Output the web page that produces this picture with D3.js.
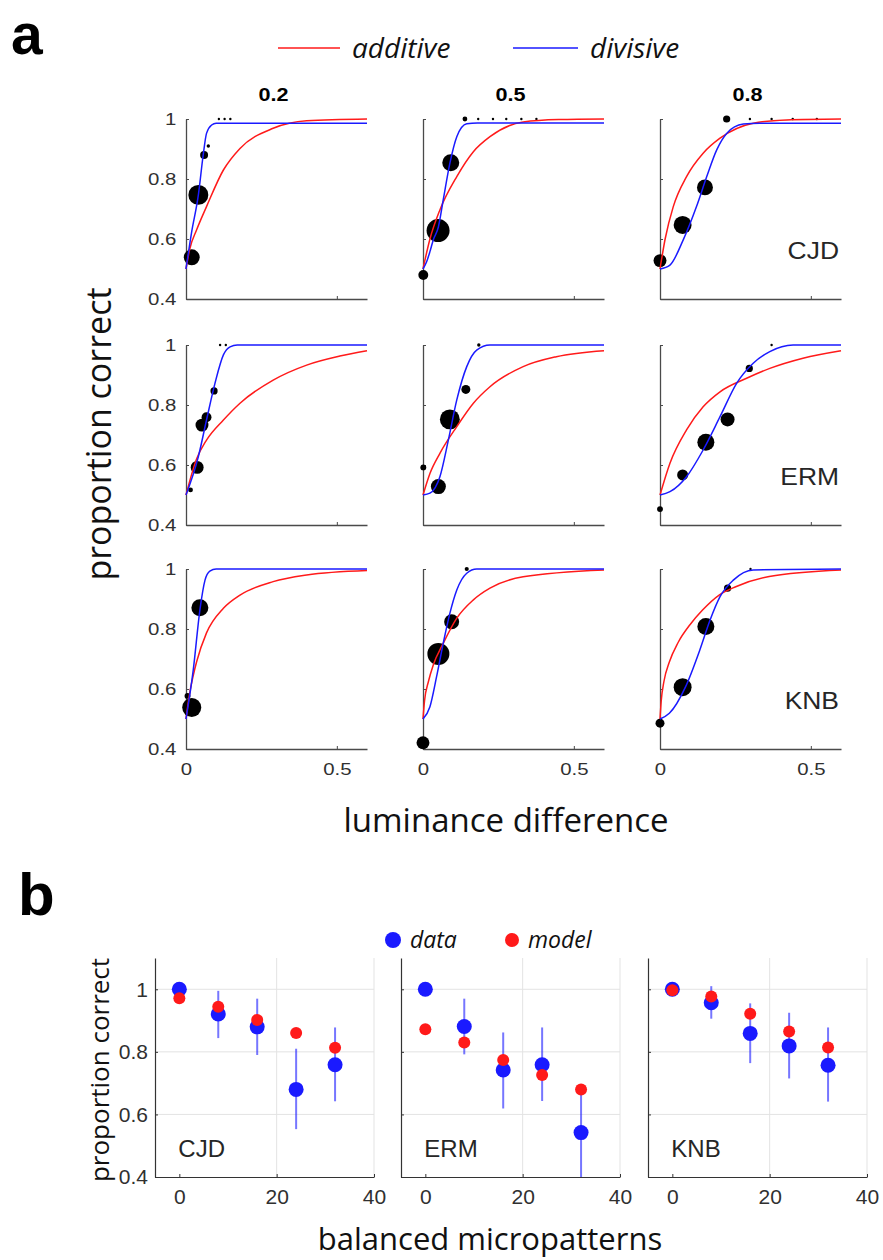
<!DOCTYPE html>
<html>
<head>
<meta charset="utf-8">
<script src="https://cdnjs.cloudflare.com/ajax/libs/d3/7.8.5/d3.min.js"></script>
<style>
  body { margin: 0; background: #fff; }
  svg { display: block; }
</style>
</head>
<body>
<div id="root"></div>
<script>
// ---------- panel a ----------
const subjects = ["CJD", "ERM", "KNB"]
const contrasts = ["0.2", "0.5", "0.8"]
const lumTicks = [0, 0.5]
const propTicks = [0.4, 0.6, 0.8, 1]
const legendA = ["additive", "divisive"]

// model curves: [luminance difference, proportion correct]
const additiveCJD = [
  [[0, 0.5], [0.012, 0.565], [0.035, 0.63], [0.068, 0.708], [0.124, 0.83], [0.179, 0.902], [0.289, 0.969], [0.4, 0.994], [0.6, 1]],
  [[0, 0.5], [0.023, 0.6], [0.056, 0.697], [0.112, 0.808], [0.167, 0.891], [0.222, 0.941], [0.332, 0.99], [0.45, 0.998], [0.6, 1]],
  [[0, 0.5], [0.017, 0.6], [0.044, 0.708], [0.088, 0.808], [0.143, 0.886], [0.199, 0.936], [0.309, 0.986], [0.42, 0.997], [0.6, 1]]
]
const divisiveCJD = [
  [[0, 0.5], [0.018, 0.619], [0.041, 0.747], [0.057, 0.88], [0.068, 0.952], [0.085, 0.98], [0.1, 0.986], [0.6, 0.986]],
  [[0, 0.5], [0.012, 0.524], [0.023, 0.558], [0.034, 0.597], [0.051, 0.64], [0.067, 0.73], [0.089, 0.852], [0.112, 0.941], [0.145, 0.984], [0.18, 0.987], [0.6, 0.987]],
  [[0, 0.5], [0.033, 0.513], [0.077, 0.597], [0.121, 0.708], [0.155, 0.808], [0.188, 0.897], [0.221, 0.952], [0.276, 0.983], [0.33, 0.986], [0.6, 0.986]]
]
const additiveERM = [
  [[0, 0.5], [0.035, 0.62], [0.068, 0.683], [0.124, 0.75], [0.179, 0.806], [0.289, 0.883], [0.4, 0.933], [0.51, 0.963], [0.6, 0.981]],
  [[0, 0.5], [0.023, 0.572], [0.056, 0.639], [0.112, 0.728], [0.167, 0.806], [0.222, 0.861], [0.332, 0.928], [0.442, 0.961], [0.6, 0.981]],
  [[0, 0.5], [0.033, 0.606], [0.088, 0.717], [0.143, 0.794], [0.199, 0.844], [0.287, 0.889], [0.364, 0.922], [0.474, 0.956], [0.6, 0.981]]
]
const divisiveERM = [
  [[0, 0.5], [0.041, 0.628], [0.068, 0.75], [0.096, 0.872], [0.124, 0.967], [0.146, 0.994], [0.17, 1], [0.6, 1]],
  [[0, 0.5], [0.023, 0.506], [0.056, 0.561], [0.084, 0.683], [0.112, 0.817], [0.145, 0.928], [0.178, 0.983], [0.222, 1], [0.6, 1]],
  [[0, 0.5], [0.033, 0.511], [0.088, 0.561], [0.143, 0.65], [0.199, 0.761], [0.254, 0.872], [0.309, 0.939], [0.364, 0.978], [0.441, 1], [0.6, 1]]
]
const additiveKNB = [
  [[0, 0.5], [0.012, 0.585], [0.024, 0.645], [0.035, 0.69], [0.068, 0.787], [0.124, 0.869], [0.179, 0.913], [0.289, 0.958], [0.4, 0.98], [0.6, 0.995]],
  [[0, 0.5], [0.005, 0.56], [0.018, 0.625], [0.034, 0.68], [0.067, 0.752], [0.112, 0.836], [0.167, 0.897], [0.222, 0.936], [0.332, 0.974], [0.6, 0.997]],
  [[0, 0.5], [0.004, 0.56], [0.013, 0.625], [0.031, 0.69], [0.06, 0.755], [0.1, 0.815], [0.141, 0.863], [0.196, 0.913], [0.251, 0.941], [0.362, 0.975], [0.6, 0.997]]
]
const divisiveKNB = [
  [[0, 0.5], [0.024, 0.663], [0.046, 0.863], [0.063, 0.963], [0.079, 0.993], [0.1, 1], [0.6, 1]],
  [[0, 0.5], [0.023, 0.541], [0.045, 0.641], [0.067, 0.752], [0.089, 0.852], [0.112, 0.93], [0.145, 0.986], [0.178, 1], [0.6, 1]],
  [[0, 0.5], [0.031, 0.519], [0.085, 0.608], [0.132, 0.73], [0.166, 0.83], [0.199, 0.908], [0.243, 0.963], [0.309, 0.997], [0.6, 1]]
]

// observed points: [luminance difference, proportion correct, trials]
const pointsCJD = [
  [[0.019, 0.539, 44], [0.041, 0.747, 69], [0.06, 0.88, 11], [0.074, 0.91, 2], [0.109, 1, 1], [0.128, 1, 1], [0.147, 1, 1]],
  [[0.001, 0.48, 17], [0.05, 0.628, 92], [0.092, 0.854, 50], [0.139, 1, 4], [0.183, 1, 1], [0.232, 1, 1], [0.276, 1, 1], [0.326, 1, 1], [0.376, 1, 1]],
  [[0, 0.528, 29], [0.075, 0.647, 56], [0.149, 0.772, 44], [0.221, 1, 9], [0.298, 1, 1], [0.37, 1, 1], [0.44, 1, 1], [0.52, 1, 1]]
]
const pointsERM = [
  [[0.015, 0.517, 4], [0.037, 0.592, 29], [0.053, 0.733, 29], [0.068, 0.759, 17], [0.093, 0.847, 9], [0.113, 1, 1], [0.132, 1, 1]],
  [[0.001, 0.592, 6], [0.051, 0.528, 39], [0.089, 0.752, 69], [0.142, 0.852, 14], [0.185, 1, 2]],
  [[0, 0.453, 6], [0.075, 0.567, 21], [0.152, 0.676, 50], [0.224, 0.752, 34], [0.296, 0.922, 9], [0.37, 1, 1]]
]
const pointsKNB = [
  [[0.005, 0.577, 6], [0.019, 0.538, 63], [0.046, 0.871, 50]],
  [[0, 0.421, 29], [0.051, 0.717, 84], [0.095, 0.824, 39], [0.145, 1, 3]],
  [[0, 0.486, 14], [0.075, 0.606, 56], [0.152, 0.808, 50], [0.224, 0.936, 9], [0.3, 1, 1]]
]

// ---------- panel b ----------
const micropatterns = [0, 8, 16, 24, 32]
const microTicks = [0, 20, 40]
const propTicksB = [0.4, 0.6, 0.8, 1]
const legendB = ["data", "model"]

const dataCJD = [1.0, 0.921, 0.880, 0.680, 0.759]
const modelCJD = [0.971, 0.944, 0.902, 0.860, 0.813]
const lowCJD = [null, 0.844, 0.790, 0.553, 0.642]
const highCJD = [null, 0.995, 0.970, 0.810, 0.878]

const dataERM = [1.0, 0.881, 0.742, 0.759, 0.542]
const modelERM = [0.872, 0.830, 0.774, 0.726, 0.680]
const lowERM = [null, 0.792, 0.619, 0.643, 0.4]
const highERM = [null, 0.970, 0.862, 0.878, 0.675]

const dataKNB = [1.0, 0.957, 0.859, 0.819, 0.757]
const modelKNB = [0.997, 0.977, 0.922, 0.865, 0.814]
const lowKNB = [null, 0.906, 0.764, 0.715, 0.641]
const highKNB = [null, 1.01, 0.955, 0.925, 0.878]

const additive = [additiveCJD, additiveERM, additiveKNB]
const divisive = [divisiveCJD, divisiveERM, divisiveKNB]
const points = [pointsCJD, pointsERM, pointsKNB]
const dataB = [dataCJD, dataERM, dataKNB]
const modelB = [modelCJD, modelERM, modelKNB]
const lowB = [lowCJD, lowERM, lowKNB]
const highB = [highCJD, highERM, highKNB]

const RED = "#ff1a1a"
const BLUE = "#1a1aff"
const TICK_FONT = "'Liberation Sans', Arial, sans-serif"
const LABEL_FONT = "'Open Sans', 'Noto Sans', sans-serif"
const SX = 1.2 // panel a text is horizontally stretched in the reference

function draw() {
  const root = d3.select("#root")
  root.selectAll("*").remove()

  const svg = root.append("svg")
    .attr("width", 883)
    .attr("height", 1260)
    .style("background", "#fff")

  // ===== panel a =====
  const colLeft = [186, 423, 660]
  const rowTop = [119, 345, 569]
  const plotW = 181
  const plotH = 180

  const xA = d3.scaleLinear().domain([0, 0.6]).range([0, plotW])
  const yA = d3.scaleLinear().domain([0.4, 1]).range([plotH, 0])
  const rA = d3.scaleSqrt().domain([0, 100]).range([0, 12])

  const line = d3.line()
    .x(d => xA(d[0]))
    .y(d => yA(d[1]))
    .curve(d3.curveMonotoneX)

  svg.append("text")
    .attr("x", 11).attr("y", 54)
    .style("font-family", TICK_FONT)
    .style("font-weight", "bold")
    .style("font-size", "57px")
    .text("a")

  // legend a
  const legA = svg.append("g")
  const legAx = [[278, 340, 352], [513, 578, 590]]
  legendA.forEach((name, i) => {
    legA.append("line")
      .attr("x1", legAx[i][0]).attr("x2", legAx[i][1])
      .attr("y1", 48).attr("y2", 48)
      .attr("stroke", i === 0 ? RED : BLUE)
      .attr("stroke-width", 1.5)
    legA.append("text")
      .attr("x", legAx[i][2]).attr("y", 58)
      .style("font-family", LABEL_FONT)
      .style("font-style", "italic")
      .style("font-size", "28px")
      .attr("fill", "#111")
      .text(name)
  })

  subjects.forEach((subj, r) => {
    contrasts.forEach((con, c) => {
      const g = svg.append("g")
        .attr("transform", `translate(${colLeft[c]},${rowTop[r]})`)

      const yAxis = d3.axisLeft(yA)
        .tickValues(propTicks)
        .tickSizeInner(-3).tickSizeOuter(0)
        .tickPadding(8)
        .tickFormat(c === 0 ? d3.format("~g") : () => "")
      const xAxis = d3.axisBottom(xA)
        .tickValues(lumTicks)
        .tickSizeInner(-3).tickSizeOuter(0)
        .tickPadding(14)
        .tickFormat(r === 2 ? d3.format("~g") : () => "")

      const ya = g.append("g").call(yAxis)
      const xa = g.append("g").attr("transform", `translate(0,${plotH})`).call(xAxis)
      ;[ya, xa].forEach(a => {
        a.select(".domain").attr("stroke", "#4a4a4a").attr("stroke-width", 1.3)
        a.selectAll(".tick line").attr("stroke", "#4a4a4a")
        a.selectAll(".tick text")
          .attr("fill", "#303030")
          .style("font-family", TICK_FONT)
          .style("font-size", "17px")
          .attr("transform", `scale(${SX},1)`)
      })

      // observed points
      g.append("g").selectAll("circle")
        .data(points[r][c])
        .join("circle")
        .attr("cx", d => xA(d[0]))
        .attr("cy", d => yA(d[1]))
        .attr("r", d => rA(d[2]))
        .attr("fill", "#000")

      g.append("path")
        .datum(additive[r][c])
        .attr("d", line)
        .attr("fill", "none")
        .attr("stroke", RED)
        .attr("stroke-width", 1.5)

      g.append("path")
        .datum(divisive[r][c])
        .attr("d", line)
        .attr("fill", "none")
        .attr("stroke", BLUE)
        .attr("stroke-width", 1.5)

      if (r === 0) {
        g.append("text")
          .attr("transform", `translate(${plotW / 2 - 3},-18) scale(${SX},1)`)
          .attr("text-anchor", "middle")
          .style("font-family", TICK_FONT)
          .style("font-weight", "bold")
          .style("font-size", "18px")
          .text(con)
      }
      if (c === 2) {
        g.append("text")
          .attr("transform", `translate(${plotW - 2},140) scale(1.15,1)`)
          .attr("text-anchor", "end")
          .attr("fill", "#262626")
          .style("font-family", TICK_FONT)
          .style("font-size", "23px")
          .text(subj)
      }
    })
  })

  svg.append("text")
    .attr("transform", "translate(111,434) rotate(-90)")
    .attr("text-anchor", "middle")
    .style("font-family", LABEL_FONT)
    .style("font-size", "34px")
    .attr("fill", "#111")
    .text("proportion correct")

  svg.append("text")
    .attr("x", 506).attr("y", 832)
    .attr("text-anchor", "middle")
    .style("font-family", LABEL_FONT)
    .style("font-size", "33px")
    .attr("fill", "#111")
    .text("luminance difference")

  // ===== panel b =====
  svg.append("text")
    .attr("x", 18).attr("y", 915)
    .style("font-family", TICK_FONT)
    .style("font-weight", "bold")
    .style("font-size", "60px")
    .text("b")

  const legB = svg.append("g")
  const legBx = [[393, 410, BLUE, 8], [512, 528, RED, 7]]
  legendB.forEach((name, i) => {
    legB.append("circle")
      .attr("cx", legBx[i][0]).attr("cy", 940)
      .attr("r", legBx[i][3])
      .attr("fill", legBx[i][2])
    legB.append("text")
      .attr("x", legBx[i][1]).attr("y", 948)
      .style("font-family", LABEL_FONT)
      .style("font-style", "italic")
      .style("font-size", "23px")
      .attr("fill", "#111")
      .text(name)
  })

  const bLeft = [155, 401, 648]
  const bTop = 958
  const bW = 219
  const bH = 219

  const xB = d3.scaleLinear().domain([-5, 40]).range([0, bW])
  const yB = d3.scaleLinear().domain([0.4, 1.1]).range([bH, 0])

  subjects.forEach((subj, k) => {
    const g = svg.append("g")
      .attr("transform", `translate(${bLeft[k]},${bTop})`)

    // grid
    g.append("g").selectAll("line")
      .data(propTicksB.filter(v => v > 0.4))
      .join("line")
      .attr("x1", 0).attr("x2", xB(40))
      .attr("y1", d => yB(d)).attr("y2", d => yB(d))
      .attr("stroke", "#e3e3e3")
    g.append("g").selectAll("line")
      .data(microTicks.filter(v => v > 0))
      .join("line")
      .attr("x1", d => xB(d)).attr("x2", d => xB(d))
      .attr("y1", 0).attr("y2", bH)
      .attr("stroke", "#e3e3e3")

    const yAxis = d3.axisLeft(yB)
      .tickValues(propTicksB)
      .tickSizeInner(-3).tickSizeOuter(0)
      .tickPadding(7)
      .tickFormat(k === 0 ? d3.format("~g") : () => "")
    const xAxis = d3.axisBottom(xB)
      .tickValues(microTicks)
      .tickSizeInner(-3).tickSizeOuter(0)
      .tickPadding(12)
      .tickFormat(d3.format("~g"))

    const ya = g.append("g").call(yAxis)
    const xa = g.append("g").attr("transform", `translate(0,${bH})`).call(xAxis)
    ;[ya, xa].forEach(a => {
      a.select(".domain").attr("stroke", "#333").attr("stroke-width", 1.2)
      a.selectAll(".tick line").attr("stroke", "#333")
      a.selectAll(".tick text")
        .attr("fill", "#303030")
        .style("font-family", TICK_FONT)
        .style("font-size", "21px")
    })

    const rows = micropatterns.map((m, i) => ({
      m, data: dataB[k][i], model: modelB[k][i], lo: lowB[k][i], hi: highB[k][i]
    }))

    g.append("g").selectAll("line")
      .data(rows.filter(d => d.lo !== null))
      .join("line")
      .attr("x1", d => xB(d.m)).attr("x2", d => xB(d.m))
      .attr("y1", d => yB(d.lo)).attr("y2", d => yB(d.hi))
      .attr("stroke", BLUE)
      .attr("stroke-opacity", 0.6)
      .attr("stroke-width", 2)

    g.append("g").selectAll("circle")
      .data(rows)
      .join("circle")
      .attr("cx", d => xB(d.m))
      .attr("cy", d => yB(d.data))
      .attr("r", 7.5)
      .attr("fill", BLUE)

    g.append("g").selectAll("circle")
      .data(rows)
      .join("circle")
      .attr("cx", d => xB(d.m))
      .attr("cy", d => yB(d.model))
      .attr("r", 6)
      .attr("fill", RED)

    g.append("text")
      .attr("x", xB(0) - 1).attr("y", bH - 20)
      .attr("fill", "#262626")
      .style("font-family", TICK_FONT)
      .style("font-size", "24px")
      .text(subj)
  })

  svg.append("text")
    .attr("transform", "translate(109,1070) rotate(-90)")
    .attr("text-anchor", "middle")
    .style("font-family", LABEL_FONT)
    .style("font-size", "26px")
    .attr("fill", "#111")
    .text("proportion correct")

  svg.append("text")
    .attr("x", 490).attr("y", 1250)
    .attr("text-anchor", "middle")
    .style("font-family", LABEL_FONT)
    .style("font-size", "31px")
    .attr("fill", "#111")
    .text("balanced micropatterns")
}

draw()
</script>
</body>
</html>
